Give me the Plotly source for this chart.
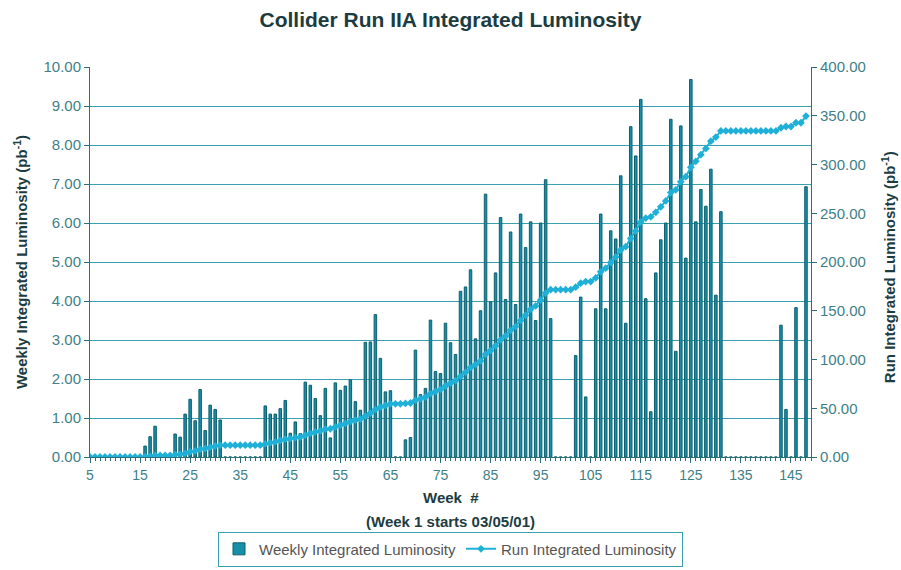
import plotly.graph_objects as go

weeks = list(range(5, 149))

weekly_lumi = [
    0, 0, 0, 0, 0, 0, 0, 0, 0, 0, 0,                       # 5-15
    0.28, 0.52, 0.79,                                      # 16-18
    0, 0, 0,                                               # 19-21
    0.59, 0.51, 1.10, 1.48, 0.93, 1.73, 0.68, 1.33, 1.22, 0.95,  # 22-31
    0, 0, 0, 0, 0, 0, 0, 0,                                # 32-39
    1.31, 1.10, 1.10, 1.24, 1.45, 0.61, 0.90, 0.60, 1.92, 1.84,  # 40-49
    1.50, 1.06, 1.76, 0.49, 1.90, 1.71, 1.82, 1.98, 1.42, 1.20,  # 50-59
    2.94, 2.95, 3.65, 2.53, 1.67, 1.70,                    # 60-65
    0, 0,                                                  # 66-67
    0.44, 0.50,                                            # 68-69
    2.74, 1.60, 1.76, 3.51, 2.19, 2.14, 3.43, 2.93, 2.63, 4.25,  # 70-79
    4.36, 4.80, 3.03, 3.75, 6.74, 3.98, 4.72, 6.14, 4.04, 5.77,  # 80-89
    3.91, 6.23, 5.37, 6.03, 3.50, 6.00, 7.11, 3.55,        # 90-97
    0, 0, 0, 0,                                            # 98-101
    2.60, 4.10, 1.54, 0, 3.80, 6.23, 3.80, 5.80, 5.59, 7.21,     # 102-111
    3.43, 8.47, 7.72, 9.17, 4.06, 1.16, 4.72, 5.57, 6.00, 8.66,  # 112-121
    2.71, 8.49, 5.10, 9.68, 6.03, 6.86, 6.43, 7.38, 4.15, 6.29,  # 122-131
    0, 0, 0, 0, 0, 0, 0, 0, 0, 0, 0,                       # 132-142
    3.38, 1.22, 0, 3.83, 0, 6.93,                          # 143-148
]

run_lumi = [
    0, 0, 0, 0, 0, 0, 0, 0, 0, 0, 0,                       # 5-15
    0.3, 0.8, 1.6,                                         # 16-18
    1.6, 1.6, 1.6,                                         # 19-21
    2.2, 2.7, 3.8, 5.3, 6.2, 7.9, 8.6, 9.9, 11.2, 12.1,    # 22-31
    12.1, 12.1, 12.1, 12.1, 12.1, 12.1, 12.1, 12.1,        # 32-39
    13.4, 14.5, 15.6, 16.9, 18.3, 18.9, 19.8, 20.4, 22.3, 24.2,  # 40-49
    25.7, 26.7, 28.5, 29.0, 30.9, 32.6, 34.4, 36.4, 37.8, 39.0,  # 50-59
    42.0, 44.9, 48.6, 51.1, 52.8, 54.5,                    # 60-65
    54.5, 54.5,                                            # 66-67
    54.9, 55.4,                                            # 68-69
    58.1, 59.7, 61.5, 65.0, 67.2, 69.3, 72.8, 75.7, 78.3, 82.6,  # 70-79
    86.9, 91.7, 94.8, 98.5, 105.3, 109.2, 114.0, 120.1, 124.1, 129.9,  # 80-89
    133.8, 140.1, 145.4, 151.5, 155.0, 161.0, 168.1, 171.6,  # 90-97
    171.6, 171.6, 171.6, 171.6,                            # 98-101
    174.2, 178.3, 179.9, 179.9, 183.7, 189.9, 193.7, 199.5, 205.1, 212.3,  # 102-111
    215.7, 224.2, 231.9, 241.1, 245.1, 246.3, 251.0, 256.6, 262.6, 271.2,  # 112-121
    274.0, 282.4, 287.5, 297.2, 303.3, 310.1, 316.5, 323.9, 328.1, 334.4,  # 122-131
    334.4, 334.4, 334.4, 334.4, 334.4, 334.4, 334.4, 334.4, 334.4, 334.4, 334.4,  # 132-142
    337.7, 339.0, 339.0, 342.8, 342.8, 349.7,              # 143-148
]

left_ticks = [0, 1, 2, 3, 4, 5, 6, 7, 8, 9, 10]
right_ticks = [0, 50, 100, 150, 200, 250, 300, 350, 400]
x_tick_weeks = list(range(5, 149, 10))

FONT = "Liberation Sans, Arial, sans-serif"
TICK_COLOR = "#3f7f88"
TITLE_COLOR = "#1c3c42"
GRID = "#3a9fae"
AXIS = "#2b6f78"

fig = go.Figure()
fig.add_trace(go.Bar(
    x=weeks, y=weekly_lumi, name="Weekly Integrated Luminosity",
    marker=dict(color="#168fa8", line=dict(color="#0d5f6e", width=1)),
    yaxis="y",
))
fig.add_trace(go.Scatter(
    x=weeks, y=run_lumi, name="Run Integrated Luminosity",
    mode="lines+markers",
    line=dict(color="#1fb0d8", width=2),
    marker=dict(symbol="diamond", size=6, color="#1fb0d8"),
    yaxis="y2",
))

fig.update_layout(
    width=901, height=570,
    margin=dict(l=90, r=90, t=67, b=113, autoexpand=False),
    paper_bgcolor="white", plot_bgcolor="white",
    font=dict(family=FONT, color=TICK_COLOR, size=14),
    bargap=0.5,
    showlegend=True,
    title=dict(text="<b>Collider Run IIA Integrated Luminosity</b>",
               x=0.5, xanchor="center", y=0.965, yanchor="middle",
               font=dict(size=21, color=TITLE_COLOR, family=FONT)),
    xaxis=dict(
        range=[5, 149], tickmode="array", tickvals=x_tick_weeks,
        ticktext=[str(w) for w in x_tick_weeks],
        showgrid=False, zeroline=False,
        showline=True, linecolor=AXIS, linewidth=1,
        ticks="outside", ticklen=5, tickcolor=AXIS,
        minor=dict(dtick=1, tick0=5, ticks="outside", ticklen=3, tickcolor=AXIS),
        tickfont=dict(size=14, color=TICK_COLOR),
    ),
    yaxis=dict(
        range=[0, 10], tickmode="array", tickvals=left_ticks,
        ticktext=[f"{v:.2f}" for v in left_ticks],
        showgrid=True, gridcolor=GRID, gridwidth=1,
        zeroline=False, showline=True, linecolor=AXIS, linewidth=1,
        ticks="outside", ticklen=5, tickcolor=AXIS,
        tickfont=dict(size=15, color=TICK_COLOR),
    ),
    yaxis2=dict(
        range=[0, 400], tickmode="array", tickvals=right_ticks,
        ticktext=[f"{v:.2f}" for v in right_ticks],
        overlaying="y", side="right",
        showgrid=False, zeroline=False, showline=True, linecolor=AXIS, linewidth=1,
        ticks="outside", ticklen=5, tickcolor=AXIS,
        tickfont=dict(size=15, color=TICK_COLOR),
    ),
    legend=dict(
        orientation="h", x=0.5, xanchor="center",
        yref="container", y=0.006, yanchor="bottom",
        bordercolor=GRID, borderwidth=1, bgcolor="white",
        font=dict(size=15, color="#555555", family=FONT),
        itemwidth=30,
    ),
    annotations=[
        dict(text="<b>Week  #</b>", xref="paper", yref="paper", x=0.5, y=-0.103,
             yanchor="middle", showarrow=False, font=dict(size=15, color=TITLE_COLOR)),
        dict(text="<b>(Week 1 starts 03/05/01)</b>", xref="paper", yref="paper", x=0.5, y=-0.165,
             yanchor="middle", showarrow=False, font=dict(size=15, color=TITLE_COLOR)),
        dict(text="<b>Weekly Integrated Luminosity (pb<sup>-1</sup>)</b>", xref="paper", yref="paper",
             x=-0.097, y=0.5, xanchor="center", yanchor="middle", textangle=-90, showarrow=False,
             font=dict(size=15, color=TITLE_COLOR)),
        dict(text="<b>Run Integrated Luminosity (pb<sup>-1</sup>)</b>", xref="paper", yref="paper",
             x=1.107, y=0.5, xanchor="center", yanchor="middle", textangle=-90, showarrow=False,
             font=dict(size=15, color=TITLE_COLOR), yshift=-5),
    ],
)

fig.write_html("out.html", config={"displayModeBar": False},
               post_script="document.body.style.margin='0';document.body.style.overflow='hidden';")
